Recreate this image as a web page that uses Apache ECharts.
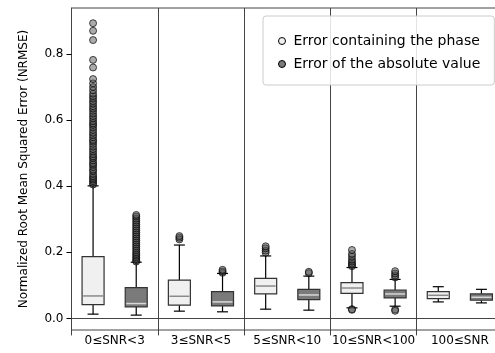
<!DOCTYPE html>
<html>
<head>
<meta charset="utf-8">
<script src="https://cdn.jsdelivr.net/npm/echarts@6/dist/echarts.min.js"></script>
<style>
  html, body { margin: 0; padding: 0; background: #fff; }
  #chart { width: 495px; height: 353px; }
</style>
</head>
<body>
<div id="chart"></div>
<script>
const groups = ['0≤SNR<3', '3≤SNR<5', '5≤SNR<10', '10≤SNR<100', '100≤SNR'];
const slots = ['p0', 'a0', 'p1', 'a1', 'p2', 'a2', 'p3', 'a3', 'p4', 'a4'];
const yTicks = [0, 0.2, 0.4, 0.6, 0.8];

const phaseName = 'Error containing the phase';
const absName = 'Error of the absolute value';

// [lower whisker, Q1, median, Q3, upper whisker]
const phaseBoxes = [
  [0.013, 0.042, 0.068, 0.187, 0.401],
  [0.022, 0.040, 0.067, 0.116, 0.222],
  [0.028, 0.074, 0.098, 0.121, 0.189],
  [0.032, 0.076, 0.092, 0.108, 0.154],
  [0.050, 0.060, 0.070, 0.081, 0.096]
];
const absBoxes = [
  [0.010, 0.035, 0.045, 0.093, 0.170],
  [0.020, 0.038, 0.050, 0.081, 0.136],
  [0.025, 0.057, 0.071, 0.088, 0.128],
  [0.037, 0.062, 0.074, 0.086, 0.118],
  [0.047, 0.055, 0.064, 0.074, 0.088]
];

// outliers per group
const phaseOutliers = [
  [0.405, 0.41, 0.415, 0.42, 0.425, 0.43, 0.437, 0.445, 0.45, 0.458, 0.465, 0.47, 0.478,
   0.485, 0.49, 0.497, 0.505, 0.512, 0.52, 0.528, 0.535, 0.54, 0.548, 0.555, 0.562, 0.57,
   0.578, 0.585, 0.59, 0.597, 0.605, 0.612, 0.62, 0.628, 0.635, 0.642, 0.65, 0.657, 0.665,
   0.672, 0.68, 0.69, 0.70, 0.711, 0.724, 0.759, 0.782, 0.842, 0.870, 0.893],
  [0.239, 0.244, 0.249],
  [0.199, 0.205, 0.212, 0.218],
  [0.158, 0.162, 0.166, 0.172, 0.178, 0.187, 0.195, 0.207, 0.028, 0.026],
  []
];
const absOutliers = [
  [0.172, 0.176, 0.18, 0.185, 0.19, 0.195, 0.2, 0.206, 0.212, 0.218, 0.224, 0.23, 0.236,
   0.242, 0.248, 0.254, 0.26, 0.266, 0.272, 0.278, 0.284, 0.29, 0.296, 0.302, 0.308, 0.313],
  [0.138, 0.142, 0.147],
  [0.137, 0.141],
  [0.124, 0.13, 0.136, 0.143, 0.027, 0.023],
  []
];

const lightFill = '#f0f0f0';
const darkFill = '#7a7a7a';
const frame = '#444';

function boxData(boxes, offset) {
  return boxes.map((b, i) => [i * 2 + offset].concat(b));
}
function outlierData(list, offset) {
  const out = [];
  list.forEach((vals, i) => vals.forEach(v => out.push([i * 2 + offset, v])));
  return out;
}

// draws one matplotlib-like box: half-width caps, own median colour
function boxRenderer(fill, medianColor) {
  return function (params, api) {
    const x = api.value(0);
    const lo = api.coord([x, api.value(1)]);
    const q1 = api.coord([x, api.value(2)]);
    const md = api.coord([x, api.value(3)]);
    const q3 = api.coord([x, api.value(4)]);
    const hi = api.coord([x, api.value(5)]);
    const w = api.size([1, 0])[0] * 0.51;
    const cx = lo[0];
    const whisker = { stroke: '#000', lineWidth: 1.2 };
    return {
      type: 'group',
      children: [
        { type: 'line', shape: { x1: cx, y1: q1[1], x2: cx, y2: lo[1] }, style: whisker },
        { type: 'line', shape: { x1: cx, y1: q3[1], x2: cx, y2: hi[1] }, style: whisker },
        { type: 'line', shape: { x1: cx - w / 4, y1: lo[1], x2: cx + w / 4, y2: lo[1] }, style: whisker },
        { type: 'line', shape: { x1: cx - w / 4, y1: hi[1], x2: cx + w / 4, y2: hi[1] }, style: whisker },
        {
          type: 'rect',
          shape: { x: cx - w / 2, y: q3[1], width: w, height: q1[1] - q3[1] },
          style: { fill: fill, stroke: '#333', lineWidth: 1.2 }
        },
        {
          type: 'line',
          shape: { x1: cx - w / 2 + 1, y1: md[1], x2: cx + w / 2 - 1, y2: md[1] },
          style: { stroke: medianColor, lineWidth: 1.5 }
        }
      ]
    };
  };
}

const outlierStyle = {
  color: 'rgba(80,80,80,0.6)',
  borderColor: 'rgba(0,0,0,0.85)',
  borderWidth: 1
};

const chart = echarts.init(document.getElementById('chart'));
chart.setOption({
  animation: false,
  textStyle: { fontFamily: 'DejaVu Sans' },
  grid: {
    left: 71.5, right: -8, top: 8, bottom: 23,
    containLabel: false, outerBoundsMode: 'none',
    show: true, borderColor: frame, borderWidth: 1
  },
  legend: {
    left: 263, top: 16,
    orient: 'vertical',
    padding: [18, 14, 14, 15],
    itemWidth: 13, itemHeight: 7, itemGap: 9,
    symbolKeepAspect: true,
    backgroundColor: 'rgba(255,255,255,0.85)',
    borderColor: '#cccccc', borderWidth: 1, borderRadius: 3,
    textStyle: { fontSize: 14, color: '#000', fontFamily: 'DejaVu Sans' },
    data: [
      { name: phaseName, icon: 'circle', itemStyle: { color: lightFill, borderColor: '#000', borderWidth: 1 } },
      { name: absName, icon: 'circle', itemStyle: { color: darkFill, borderColor: '#000', borderWidth: 1 } }
    ]
  },
  xAxis: [
    {
      type: 'category',
      data: groups,
      axisLine: { lineStyle: { color: frame, width: 1 } },
      axisTick: { show: true, interval: 0, length: 17, lineStyle: { color: frame, width: 1 } },
      splitLine: { show: true, interval: 0, lineStyle: { color: frame, width: 1 } },
      axisLabel: { interval: 0, fontSize: 12, color: '#000', margin: 5 }
    },
    {
      type: 'category',
      data: slots,
      show: false
    }
  ],
  yAxis: {
    type: 'value',
    min: -0.035,
    max: 0.939,
    name: 'Normalized Root Mean Squared Error (NRMSE)',
    nameLocation: 'middle',
    nameGap: 42,
    nameTextStyle: { fontSize: 12, color: '#000' },
    axisLine: { show: true, lineStyle: { color: frame, width: 1 } },
    axisTick: { show: true, length: 5, customValues: yTicks, lineStyle: { color: '#000' } },
    axisLabel: { fontSize: 12, color: '#000', customValues: yTicks, formatter: v => v.toFixed(1) },
    splitLine: { show: false }
  },
  series: [
    {
      name: phaseName,
      type: 'custom',
      xAxisIndex: 1,
      renderItem: boxRenderer(lightFill, '#8a8a8a'),
      encode: { x: 0, y: [1, 2, 3, 4, 5] },
      data: boxData(phaseBoxes, 0)
    },
    {
      name: absName,
      type: 'custom',
      xAxisIndex: 1,
      renderItem: boxRenderer(darkFill, '#d8d8d8'),
      encode: { x: 0, y: [1, 2, 3, 4, 5] },
      data: boxData(absBoxes, 1)
    },
    {
      name: phaseName,
      type: 'scatter',
      xAxisIndex: 1,
      symbol: 'circle',
      symbolSize: 7,
      itemStyle: outlierStyle,
      data: outlierData(phaseOutliers, 0)
    },
    {
      name: absName,
      type: 'scatter',
      xAxisIndex: 1,
      symbol: 'circle',
      symbolSize: 7,
      itemStyle: outlierStyle,
      data: outlierData(absOutliers, 1)
    }
  ]
});
</script>
</body>
</html>
